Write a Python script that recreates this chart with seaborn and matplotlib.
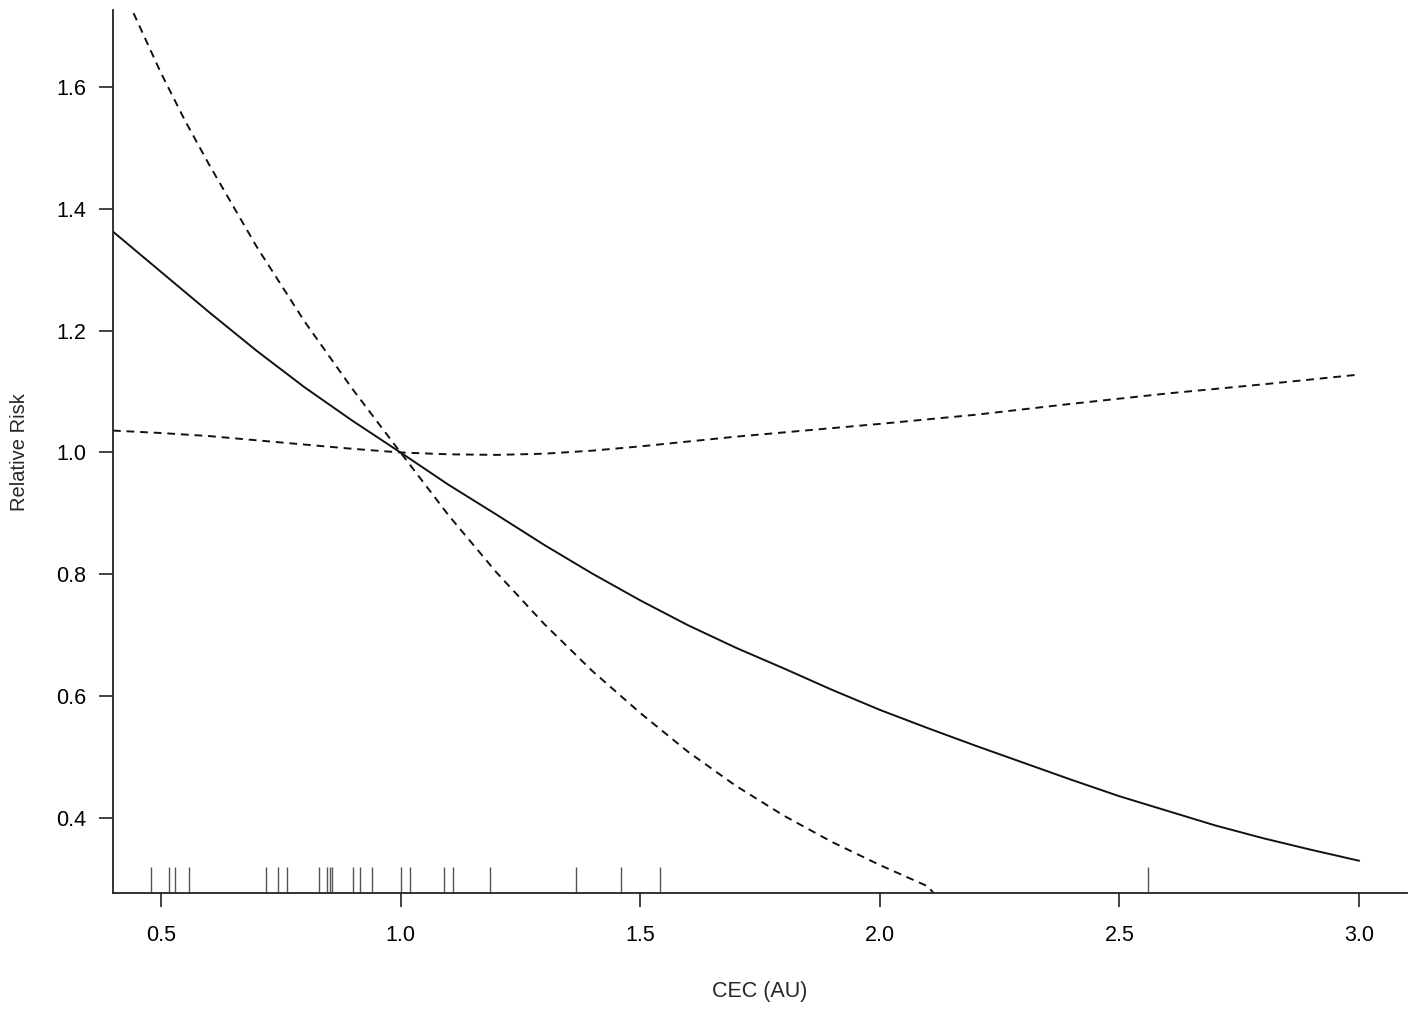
import matplotlib
matplotlib.use("Agg")
import matplotlib.pyplot as plt
import seaborn as sns

# estimated relative risk curve (solid)
rr_x = [0.4, 0.5, 0.6, 0.7, 0.8, 0.9, 1.0, 1.1, 1.2, 1.3, 1.4, 1.5, 1.6, 1.7, 1.8,
        1.9, 2.0, 2.1, 2.2, 2.3, 2.4, 2.5, 2.6, 2.7, 2.8, 2.9, 3.0]
rr_y = [1.363, 1.297, 1.231, 1.167, 1.107, 1.052, 1.0, 0.947, 0.898, 0.848, 0.801,
        0.757, 0.716, 0.679, 0.645, 0.610, 0.577, 0.547, 0.518, 0.490, 0.462,
        0.435, 0.411, 0.387, 0.366, 0.347, 0.329]

# steep dashed band (clipped at top and at bottom of the panel)
ci_a_x = [0.443, 0.5, 0.55, 0.6, 0.7, 0.8, 0.9, 1.0, 1.1, 1.2, 1.3, 1.4, 1.5, 1.6,
          1.7, 1.8, 1.9, 2.0, 2.1, 2.112]
ci_a_y = [1.722, 1.624, 1.546, 1.474, 1.338, 1.215, 1.104, 1.0, 0.897, 0.803, 0.718,
          0.641, 0.572, 0.508, 0.452, 0.403, 0.360, 0.322, 0.287, 0.276]

# flat dashed band
ci_b_x = [0.4, 0.5, 0.6, 0.7, 0.8, 0.9, 1.0, 1.1, 1.2, 1.3, 1.4, 1.5, 1.6, 1.7,
          1.8, 2.0, 2.2, 2.4, 2.6, 2.8, 3.0]
ci_b_y = [1.036, 1.032, 1.027, 1.020, 1.013, 1.006, 1.0, 0.997, 0.996, 0.998, 1.003,
          1.010, 1.018, 1.026, 1.033, 1.047, 1.062, 1.080, 1.097, 1.112, 1.128]

# observed values shown as rug
rug_x = [0.48, 0.518, 0.53, 0.558, 0.719, 0.745, 0.764, 0.83, 0.847, 0.852, 0.856,
         0.90, 0.916, 0.94, 1.0, 1.02, 1.09, 1.11, 1.186, 1.366, 1.46, 1.541, 2.559]

x_ticks = [0.5, 1.0, 1.5, 2.0, 2.5, 3.0]
y_ticks = [0.4, 0.6, 0.8, 1.0, 1.2, 1.4, 1.6]

sns.set_theme(style="ticks")
plt.rcParams['font.family'] = ['Liberation Sans', 'DejaVu Sans']

fig = plt.figure(figsize=(14.17, 10.11), dpi=100)
ax = fig.add_axes([0.0797, 0.1167, 0.9133, 0.8733])

line_kw = dict(color='#111111', linewidth=1.4, estimator=None, ax=ax)
sns.lineplot(x=rr_x, y=rr_y, **line_kw)
sns.lineplot(x=ci_a_x, y=ci_a_y, linestyle=(0, (4, 3)), **line_kw)
sns.lineplot(x=ci_b_x, y=ci_b_y, linestyle=(0, (4, 3)), **line_kw)
sns.rugplot(x=rug_x, height=0.03, color='#555555', linewidth=1.0, ax=ax)

ax.set_xlim(0.4, 3.1)
ax.set_ylim(0.276, 1.727)
ax.set_xticks(x_ticks)
ax.set_xticklabels([f'{v:.1f}' for v in x_ticks])
ax.set_yticks(y_ticks)
ax.set_yticklabels([f'{v:.1f}' for v in y_ticks])
ax.tick_params(direction='out', length=10, width=1.2, labelsize=15.5,
               colors='#222222', labelcolor='black')
ax.tick_params(axis='x', pad=13)
ax.tick_params(axis='y', pad=9)
ax.set_xlabel('CEC (AU)', fontsize=15.5, labelpad=25)
ax.set_ylabel('Relative Risk', fontsize=14.5, labelpad=20)

sns.despine(ax=ax)
for side in ['left', 'bottom']:
    ax.spines[side].set_linewidth(1.3)
    ax.spines[side].set_color('#222222')

fig.savefig('out.png', dpi=100)
